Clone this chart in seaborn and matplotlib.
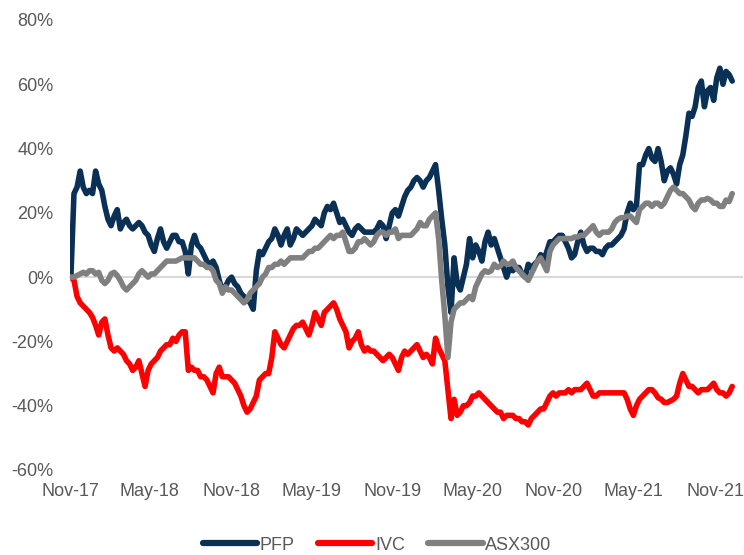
import numpy as np
import pandas as pd
import matplotlib
matplotlib.use("Agg")
import matplotlib.pyplot as plt
import matplotlib.dates as mdates
import seaborn as sns

# Weekly observation dates (Fridays) and cumulative returns in percent
dates = pd.date_range("2017-11-03", periods=215, freq="7D")

pfp = [
    0, 26, 28, 33, 28, 26, 27, 26, 33, 29,
    27, 22, 18, 16, 19, 21, 15, 17, 18, 16,
    15, 16, 17, 16, 14, 13, 10, 8, 12, 15,
    11, 9, 11, 13, 13, 11, 11, 8, 1, 10,
    13, 10, 9, 7, 5, 4, 5, 3, -1, -4,
    -3, -1, 0, -2, -3, -5, -6, -7, -8, -10,
    2, 8, 7, 9, 11, 12, 15, 13, 10, 13,
    15, 10, 12, 15, 14, 13, 14, 15, 16, 18,
    17, 16, 20, 22, 21, 23, 20, 17, 18, 16,
    14, 13, 15, 16, 15, 14, 14, 14, 14, 15,
    17, 16, 12, 16, 20, 21, 19, 22, 25, 27,
    28, 30, 31, 30, 28, 30, 31, 33, 35, 27,
    18, 10, -3, -11, 6, -2, -4, 0, 4, 12,
    6, 10, 8, 5, 11, 14, 10, 12, 9, 6,
    3, 0, 3, 2, 3, 3, 1, 0, 4, 3,
    4, 5, 7, 5, 8, 11, 11, 12, 13, 13,
    11, 9, 6, 7, 11, 14, 10, 8, 9, 9,
    8, 8, 7, 9, 10, 10, 11, 12, 13, 15,
    20, 23, 21, 22, 35, 35, 38, 40, 37, 36,
    40, 36, 30, 33, 34, 32, 29, 35, 38, 44,
    51, 50, 53, 59, 61, 53, 58, 59, 55, 62,
    65, 60, 64, 63, 61,
]

ivc = [
    0, -1, -6, -8, -9, -10, -11, -12.5, -15, -18,
    -14, -13, -18, -22, -23, -22, -23, -24, -26, -27,
    -29, -28, -26, -30, -34, -29, -27, -26, -25, -23,
    -22, -21, -21, -19, -20, -18, -17, -17, -29, -28,
    -29, -29, -31, -31, -32, -34, -36, -30, -28, -31,
    -31, -31, -32, -33, -35, -37, -40, -42, -41, -39,
    -37, -32, -31, -30, -30, -25, -17, -19, -21, -22,
    -20, -18, -16, -15, -15, -14, -16, -18, -15, -11,
    -13, -15, -11, -10, -9, -8, -10, -13, -15, -17,
    -22, -20, -19, -17, -21, -23, -22, -23, -23, -24,
    -25, -26, -25, -24, -25, -27, -29, -25, -23, -24,
    -23, -22, -21, -23, -25, -24, -25, -27, -19, -22,
    -24, -26, -35, -44, -38, -43, -42, -40, -40, -39,
    -37, -37, -36, -37, -38, -39, -40, -41, -42, -42,
    -44, -43, -43, -43, -44, -44, -45, -45, -46, -44,
    -43, -42, -41, -41, -39, -37, -36, -37, -36, -36,
    -36, -35, -36, -35, -35, -35, -34, -33, -35, -37,
    -37, -36, -36, -36, -36, -36, -36, -36, -36, -36,
    -38, -41, -43, -40, -38, -37, -36, -35, -35, -36,
    -37.5, -38, -39, -39, -38.5, -38, -37, -33, -30, -32,
    -34, -34, -35, -36, -35, -35, -35, -34, -33, -35,
    -36, -36, -37, -36, -34,
]

asx300 = [
    0, 0, 0.5, 1, 1.5, 1, 2, 2, 1, 1.5,
    -1, -2, -1, 1, 1.5, 0.5, -1, -3, -4, -3,
    -2, -1, 1, 2, 1, 0, 1, 1, 2, 3,
    4, 5, 5, 5, 5, 5.5, 6, 6, 6, 6,
    6, 5, 4, 4, 3, 3, 2, -1, -2, -5,
    -3, -4, -4, -5, -6, -7, -8, -7, -5, -4,
    -3, -2, 0, 1, 3, 3, 4, 4, 5, 4,
    5, 6, 6, 6, 6, 6, 7, 8, 8, 9,
    9, 10, 11, 12, 13, 12, 13, 13, 14, 11,
    8, 8, 9, 11, 11, 12, 11, 10, 11, 13,
    14, 14, 13, 14, 14, 15, 12, 13, 13, 13,
    13, 14, 15, 17, 16, 16, 18, 19, 20, 12,
    -1, -12, -25, -14, -10, -9, -8, -8, -7, -6,
    -7, -3, -1, 1, 2, 1.5, 2, 4, 3, 3.5,
    5, 4, 4, 5, 3, 2, 1, 0, -1, 1,
    3, 5, 6, 4, 2, 8, 10, 11, 12, 12,
    12, 12, 12, 12.5, 12.5, 13, 13, 14, 15, 16,
    14, 13, 14, 14, 14, 15, 17, 18, 18.5, 18.5,
    19, 19, 18, 17, 21, 22, 23, 23, 22, 23,
    23, 22, 23, 25, 27, 28, 27, 26, 26, 25,
    24, 22, 21, 23, 24, 24, 24.5, 24, 23, 23,
    22, 22, 24, 23.5, 26,
]

series_names = ["PFP", "IVC", "ASX300"]
series_colors = ["#0A3155", "#FF0000", "#808080"]
y_ticks = [-60, -40, -20, 0, 20, 40, 60, 80]
x_tick_dates = pd.date_range("2017-11-01", "2021-11-01", freq="6MS")
x_tick_labels = [d.strftime("%b-%y") for d in x_tick_dates]

df = pd.concat([
    pd.DataFrame({"date": dates, "value": vals, "series": name})
    for name, vals in zip(series_names, [pfp, ivc, asx300])
], ignore_index=True)

sns.set_style("white")
plt.rcParams["font.family"] = ["Liberation Sans", "DejaVu Sans"]
plt.rcParams["axes.unicode_minus"] = False

text_grey = "#595959"
fig = plt.figure(figsize=(7.44, 5.55), dpi=100)
ax = fig.add_axes([70 / 744, 1 - 470 / 555, (741.5 - 70) / 744, (470 - 20) / 555])

sns.lineplot(data=df, x="date", y="value", hue="series", hue_order=series_names,
             palette=series_colors, linewidth=4.0, ax=ax, legend=False,
             solid_capstyle="round", solid_joinstyle="round")

ax.set_xlim(pd.Timestamp("2017-11-01"), pd.Timestamp("2021-12-31"))
ax.set_ylim(-60, 80)
ax.set_xlabel("")
ax.set_ylabel("")

# Y axis: percentage labels only
ax.set_yticks(y_ticks)
ax.set_yticklabels([f"{v}%" for v in y_ticks])
ax.tick_params(axis="y", length=0, pad=12, labelsize=13, labelcolor=text_grey)

# Horizontal axis line sits at 0% with small downward ticks
for side in ["left", "right", "top"]:
    ax.spines[side].set_visible(False)
ax.spines["bottom"].set_position(("data", 0))
ax.spines["bottom"].set_color("#D9D9D9")
ax.spines["bottom"].set_linewidth(1.5)
ax.spines["bottom"].set_zorder(0)
ax.set_xticks(x_tick_dates)
ax.tick_params(axis="x", direction="out", length=5, width=1.2, color="#D9D9D9",
               labelbottom=False)

# Date labels along the bottom edge of the plot
tick_nums = mdates.date2num(x_tick_dates)
sec = ax.secondary_xaxis(0)
sec.set_xticks(tick_nums)
sec.set_xticklabels(x_tick_labels)
sec.tick_params(length=0, pad=9, labelsize=13, labelcolor=text_grey)
sec.spines["bottom"].set_visible(False)

handles = [plt.Line2D([], [], color=c, linewidth=4.5, solid_capstyle="round")
           for c in series_colors]
fig.legend(handles, series_names, loc="center", bbox_to_anchor=(0.507, 0.018),
           ncol=3, frameon=False, fontsize=13, labelcolor=text_grey,
           handlelength=3.0, handletextpad=0.15, columnspacing=1.3)

fig.savefig("out.png", dpi=100)
